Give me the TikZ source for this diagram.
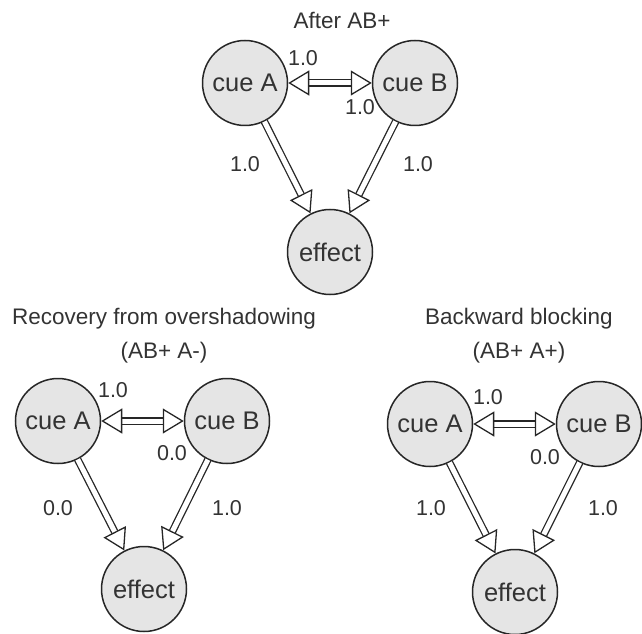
\documentclass[tikz,border=0pt]{standalone}
\usepackage{fontspec}
\setmainfont{Liberation Sans}
\usetikzlibrary{arrows.meta}
\definecolor{tinta}{HTML}{262626}
\definecolor{texto}{HTML}{333333}
\definecolor{relleno}{HTML}{E5E5E5}
\tikzset{
  nodo/.style={circle,draw=tinta,fill=relleno,line width=1.5pt,inner sep=0pt,minimum size=85pt,font=\fontsize{25.5}{25.5}\selectfont,text=texto},
  punta/.tip={Triangle[open,length=21pt,width=25pt]},
  flecha/.style={draw=tinta,line width=1.3pt,double=white,double distance=5pt,-punta},
  flechados/.style={flecha,punta-punta},
  peso/.style={font=\fontsize{21.5}{21.5}\selectfont,text=texto},
  titulo/.style={align=center,font=\fontsize{22.5}{34}\selectfont,text=texto},
}
\begin{document}
\begin{tikzpicture}[x=1pt,y=1pt]
  \useasboundingbox (0,0) rectangle (642,633);
  % after AB+
  \node[titulo] (t1) at (342,613) {After AB+};
  \node[nodo] (a1) at (245,550) {cue A};
  \node[nodo] (b1) at (415,550) {cue B};
  \node[nodo] (e1) at (330,381) {effect};
  \draw[flechados] (a1) -- (b1);
  \draw[flecha] (a1) -- (e1);
  \draw[flecha] (b1) -- (e1);
  \node[peso] (p1) at (303,575) {1.0}; \node[peso] (q1) at (360,526) {1.0};
  \node[peso] (r1) at (245,469) {1.0}; \node[peso] (s1) at (418,469) {1.0};
  % recovery from overshadowing
  \node[titulo] (t2) at (164,297) {Recovery from overshadowing\\(AB+ A-)};
  \node[nodo] (a2) at (58,212) {cue A};
  \node[nodo] (b2) at (227,212) {cue B};
  \node[nodo] (e2) at (144,44) {effect};
  \draw[flechados] (a2) -- (b2);
  \draw[flecha] (a2) -- (e2);
  \draw[flecha] (b2) -- (e2);
  \node[peso] (p2) at (113,243) {1.0}; \node[peso] (q2) at (172,180) {0.0};
  \node[peso] (r2) at (58,125) {0.0}; \node[peso] (s2) at (227,125) {1.0};
  % backward blocking
  \node[titulo] (t3) at (519,297) {Backward blocking\\(AB+ A+)};
  \node[nodo] (a3) at (430,209) {cue A};
  \node[nodo] (b3) at (599,209) {cue B};
  \node[nodo] (e3) at (515,41) {effect};
  \draw[flechados] (a3) -- (b3);
  \draw[flecha] (a3) -- (e3);
  \draw[flecha] (b3) -- (e3);
  \node[peso] (p3) at (488,236) {1.0}; \node[peso] (q3) at (545,176) {0.0};
  \node[peso] (r3) at (431,125) {1.0}; \node[peso] (s3) at (603,125) {1.0};
\end{tikzpicture}
\end{document}
